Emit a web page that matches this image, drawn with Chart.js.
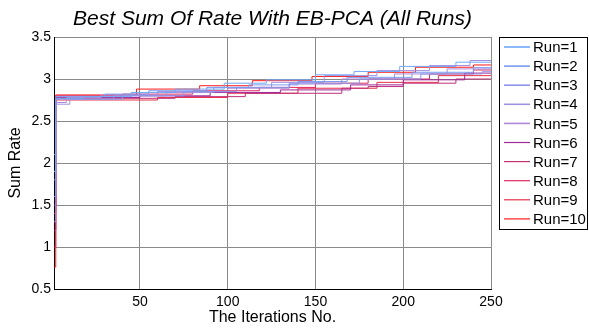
<!DOCTYPE html>
<html>
<head>
<meta charset="utf-8">
<script src="https://cdn.jsdelivr.net/npm/chart.js@4"></script>
<style>
  body { margin: 0; background: #fff; }
  canvas { display: block; }
</style>
</head>
<body>
<canvas id="chart" width="589" height="329"></canvas>
<script>
// Legend names of the runs
const runLabels = ['Run=1', 'Run=2', 'Run=3', 'Run=4', 'Run=5', 'Run=6', 'Run=7', 'Run=8', 'Run=9', 'Run=10'];

// Iterations where the best sum rate of each run changes
const runIters = [
    [1, 2, 18, 45, 70, 98, 122, 150, 172, 198, 230],
    [1, 2, 30, 55, 88, 112, 140, 168, 205, 240],
    [1, 2, 40, 75, 105, 135, 175, 210, 245],
    [1, 2, 10, 35, 65, 92, 125, 155, 185, 215, 238],
    [1, 2, 8, 28, 60, 100, 135, 165, 195, 225],
    [1, 2, 50, 90, 130, 170, 200, 235],
    [1, 2, 70, 110, 165, 180, 200, 230],
    [1, 2, 40, 80, 118, 150, 180, 215, 240],
    [1, 2, 60, 100, 140, 185, 220],
    [1, 2, 48, 84, 114, 148, 180, 207, 240]
];

// Best sum rate reached at those iterations
const runRates = [
    [1.9, 2.77, 2.79, 2.84, 2.88, 2.95, 2.99, 3.05, 3.09, 3.15, 3.20],
    [1.6, 2.79, 2.82, 2.86, 2.90, 2.93, 2.97, 3.02, 3.08, 3.135],
    [2.1, 2.76, 2.80, 2.85, 2.90, 2.95, 3.00, 3.06, 3.087],
    [1.3, 2.70, 2.76, 2.80, 2.84, 2.90, 2.96, 3.04, 3.10, 3.16, 3.22],
    [1.8, 2.72, 2.78, 2.81, 2.85, 2.89, 2.94, 3.00, 3.06, 3.12],
    [1.5, 2.78, 2.80, 2.84, 2.87, 2.93, 2.99, 3.07],
    [1.2, 2.77, 2.79, 2.83, 2.89, 2.91, 2.95, 3.00],
    [1.0, 2.80, 2.82, 2.86, 2.90, 2.95, 3.00, 3.06, 3.107],
    [1.4, 2.75, 2.78, 2.83, 2.89, 2.96, 3.04],
    [0.76, 2.81, 2.88, 2.92, 2.98, 3.03, 3.08, 3.14, 3.167]
];

const lastIter = 250;
const xTicks = [50, 100, 150, 200, 250];
const yTicks = [0.5, 1, 1.5, 2, 2.5, 3, 3.5];

const runColors = ['#6fa8f5', '#7a9cf0', '#8c96e8', '#a090e0', '#b088d8',
                   '#a02898', '#c03078', '#e02860', '#e83048', '#ff1a1a'];

const fontFamily = '"Liberation Sans", Arial, sans-serif';

// Turn change points into {x, y} points, holding the last value to the end
function buildPoints(iters, rates) {
    const pts = iters.map((it, i) => ({ x: it, y: rates[i] }));
    pts.push({ x: lastIter, y: rates[rates.length - 1] });
    return pts;
}

// Title and boxed legend, drawn like the MATLAB figure
const figurePlugin = {
    id: 'figure',
    afterDraw(chart) {
        const ctx = chart.ctx;
        const area = chart.chartArea;
        ctx.save();

        // Title
        ctx.fillStyle = '#000';
        ctx.font = 'italic 21px ' + fontFamily;
        ctx.textAlign = 'center';
        ctx.textBaseline = 'alphabetic';
        ctx.fillText('Best Sum Of Rate With EB-PCA (All Runs)', (area.left + area.right) / 2, 25);

        // Legend box
        const boxX = 499, boxY = 37, boxW = 89, boxH = 193;
        ctx.fillStyle = '#fff';
        ctx.fillRect(boxX, boxY, boxW, boxH);
        ctx.strokeStyle = '#000';
        ctx.lineWidth = 1;
        ctx.strokeRect(boxX + 0.5, boxY + 0.5, boxW - 1, boxH - 1);

        ctx.font = '15px ' + fontFamily;
        ctx.textAlign = 'left';
        ctx.textBaseline = 'middle';
        chart.data.datasets.forEach((ds, i) => {
            const y = 47 + i * 19.1;
            ctx.strokeStyle = ds.borderColor;
            ctx.lineWidth = i < 5 ? 1.6 : 1.2;
            ctx.beginPath();
            ctx.moveTo(504, y);
            ctx.lineTo(530, y);
            ctx.stroke();
            ctx.fillStyle = '#000';
            ctx.fillText(ds.label, 533, y + 1);
        });
        ctx.restore();
    }
};

const datasets = runLabels.map((label, i) => ({
    label: label,
    data: buildPoints(runIters[i], runRates[i]),
    borderColor: runColors[i],
    backgroundColor: runColors[i],
    borderWidth: 1,
    pointRadius: 0,
    stepped: true,
    fill: false
}));

new Chart(document.getElementById('chart').getContext('2d'), {
    type: 'line',
    data: { datasets: datasets },
    options: {
        responsive: false,
        animation: false,
        devicePixelRatio: 1,
        layout: { padding: { top: 37, right: 98, left: 0, bottom: 0 } },
        plugins: {
            legend: { display: false },
            title: { display: false },
            tooltip: { enabled: false }
        },
        scales: {
            x: {
                type: 'linear',
                min: 1,
                max: lastIter,
                afterFit(scale) { scale.height = 40; },
                afterBuildTicks(scale) { scale.ticks = xTicks.map(v => ({ value: v })); },
                grid: { color: '#8a8a8a', drawTicks: false },
                border: { color: '#000', width: 1 },
                ticks: {
                    color: '#000', padding: 5, maxRotation: 0,
                    font: { family: fontFamily, size: 14 },
                    callback: v => String(v)
                },
                title: {
                    display: true,
                    text: 'The Iterations No.',
                    color: '#000',
                    font: { family: fontFamily, size: 16 },
                    padding: { top: 0, bottom: 2 }
                }
            },
            y: {
                min: 0.5,
                max: 3.5,
                afterFit(scale) { scale.width = 54; },
                afterBuildTicks(scale) { scale.ticks = yTicks.map(v => ({ value: v })); },
                grid: { color: '#8a8a8a', drawTicks: false },
                border: { color: '#000', width: 1 },
                ticks: {
                    color: '#000', padding: 3,
                    font: { family: fontFamily, size: 14 },
                    callback: v => String(v)
                },
                title: {
                    display: true,
                    text: 'Sum Rate',
                    color: '#000',
                    font: { family: fontFamily, size: 16 },
                    padding: { top: 6, bottom: 0 }
                }
            }
        }
    },
    plugins: [figurePlugin]
});
</script>
</body>
</html>
